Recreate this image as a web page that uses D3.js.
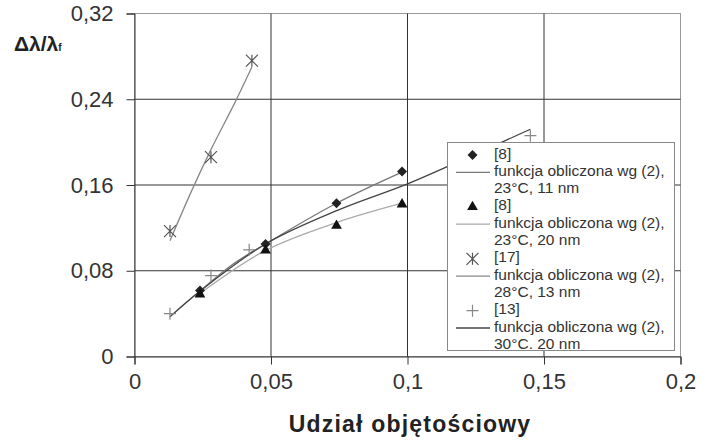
<!DOCTYPE html>
<html>
<head>
<meta charset="utf-8">
<script src="https://cdn.jsdelivr.net/npm/d3@7"></script>
<style>
  body { margin: 0; background: #fff; }
  svg { display: block; font-family: Arial, "Liberation Sans", sans-serif; }
  .tick text { fill: #333; font-size: 22px; }
  .legend text { fill: #333; font-size: 15.5px; }
</style>
</head>
<body>
<script>
const width = 716,
      height = 441;

// axes
const xTicks = [0, 0.05, 0.1, 0.15, 0.2];
const yTicks = [0, 0.08, 0.16, 0.24, 0.32];
const xTickLabels = ["0", "0,05", "0,1", "0,15", "0,2"];
const yTickLabels = ["0", "0,08", "0,16", "0,24", "0,32"];

// measured points
const ref8X = [0.024, 0.048, 0.074, 0.098];
const ref8aY = [0.0615, 0.105, 0.143, 0.1725];
const ref8bY = [0.058, 0.099, 0.122, 0.142];
const ref17X = [0.013, 0.028, 0.043];
const ref17Y = [0.117, 0.186, 0.276];
const ref13X = [0.013, 0.028, 0.042, 0.145];
const ref13Y = [0.040, 0.0755, 0.0995, 0.206];

// "funkcja obliczona wg (2)" curves
const fit11X = [0.024, 0.036, 0.048, 0.074, 0.098];
const fit11Y = [0.061, 0.086, 0.105, 0.143, 0.172];
const fit20X = [0.024, 0.048, 0.074, 0.098];
const fit20Y = [0.059, 0.099, 0.125, 0.143];
const fit28X = [0.013, 0.021, 0.028, 0.037, 0.043];
const fit28Y = [0.108, 0.155, 0.193, 0.238, 0.27];
const fit30X = [0.013, 0.024, 0.048, 0.075, 0.1, 0.125, 0.145];
const fit30Y = [0.037, 0.061, 0.105, 0.137, 0.161, 0.189, 0.212];

const legendLabels = [
    "[8]", "funkcja obliczona wg (2),", "23°C, 11 nm",
    "[8]", "funkcja obliczona wg (2),", "23°C, 20 nm",
    "[17]", "funkcja obliczona wg (2),", "28°C, 13 nm",
    "[13]", "funkcja obliczona wg (2),", "30°C. 20 nm"
];

const zip = (xs, ys) => xs.map((x, i) => ({x, y: ys[i]}));

const x = d3.scaleLinear().domain([0, 0.2]).range([134.5, 680.5]);
const y = d3.scaleLinear().domain([0, 0.32]).range([356.5, 13.5]);

const svg = d3.select("body").append("svg")
    .attr("width", width)
    .attr("height", height);

// plot frame (light top/right)
svg.append("rect")
    .attr("x", x(0)).attr("y", y(0.32))
    .attr("width", x(0.2) - x(0)).attr("height", y(0) - y(0.32))
    .attr("fill", "none").attr("stroke", "#999");

// grid
svg.append("g").selectAll("line")
    .data(xTicks.slice(1, -1))
    .enter().append("line")
    .attr("x1", d => x(d)).attr("x2", d => x(d))
    .attr("y1", y(0.32)).attr("y2", y(0))
    .attr("stroke", "#333");
svg.append("g").selectAll("line")
    .data(yTicks.slice(1, -1))
    .enter().append("line")
    .attr("x1", x(0)).attr("x2", x(0.2))
    .attr("y1", d => y(d)).attr("y2", d => y(d))
    .attr("stroke", "#333");

const xAxis = svg.append("g")
    .attr("transform", `translate(0,${y(0)})`)
    .call(d3.axisBottom(x).tickValues(xTicks).tickFormat((d, i) => xTickLabels[i])
        .tickSize(8).tickPadding(9));
const yAxis = svg.append("g")
    .attr("transform", `translate(${x(0)},0)`)
    .call(d3.axisLeft(y).tickValues(yTicks).tickFormat((d, i) => yTickLabels[i])
        .tickSize(8).tickPadding(13));
[xAxis, yAxis].forEach(a => {
    a.select(".domain").attr("stroke", "#333");
    a.selectAll(".tick line").attr("stroke", "#333");
    a.attr("font-size", null).attr("font-family", null);
});

// axis titles
const yTitle = svg.append("text")
    .attr("x", 14).attr("y", 51)
    .attr("font-weight", "bold").attr("font-size", 21).attr("fill", "#222")
    .text("Δλ/λ");
yTitle.append("tspan").attr("font-size", 10).text("f");

svg.append("text")
    .attr("x", 410).attr("y", 432)
    .attr("text-anchor", "middle")
    .attr("font-weight", "bold").attr("font-size", 23).attr("fill", "#222")
    .attr("letter-spacing", 1.2)
    .text("Udział objętościowy");

// fit curves
const line = d3.line().x(d => x(d.x)).y(d => y(d.y)).curve(d3.curveCatmullRom);
const fits = [
    {data: zip(fit11X, fit11Y), color: "#777"},
    {data: zip(fit20X, fit20Y), color: "#aaa"},
    {data: zip(fit28X, fit28Y), color: "#888"},
    {data: zip(fit30X, fit30Y), color: "#444"}
];
svg.append("g").selectAll("path")
    .data(fits)
    .enter().append("path")
    .attr("d", d => line(d.data))
    .attr("fill", "none")
    .attr("stroke", d => d.color)
    .attr("stroke-width", 1.3);

// markers
const diamondPath = "M0,-5L5,0L0,5L-5,0Z";
const asteriskPath = "M-6,-6L6,6M-6,6L6,-6M0,-6L0,6";
const plusPath = "M-6,0L6,0M0,-6L0,6";
const markerPath = type => {
    if (type === "diamond") return diamondPath;
    if (type === "triangle") return d3.symbol(d3.symbolTriangle, 50)();
    if (type === "asterisk") return asteriskPath;
    return plusPath;
};
const markerStyle = {
    diamond: {fill: "#222", stroke: "none"},
    triangle: {fill: "#111", stroke: "none"},
    asterisk: {fill: "none", stroke: "#555"},
    plus: {fill: "none", stroke: "#888"}
};
const series = [
    {type: "diamond", data: zip(ref8X, ref8aY)},
    {type: "triangle", data: zip(ref8X, ref8bY)},
    {type: "asterisk", data: zip(ref17X, ref17Y)},
    {type: "plus", data: zip(ref13X, ref13Y)}
];
series.forEach(s => {
    svg.append("g").selectAll("path")
        .data(s.data)
        .enter().append("path")
        .attr("transform", d => `translate(${x(d.x)},${y(d.y)})`)
        .attr("d", markerPath(s.type))
        .attr("fill", markerStyle[s.type].fill)
        .attr("stroke", markerStyle[s.type].stroke)
        .attr("stroke-width", 1.2);
});

// legend
const legend = svg.append("g").attr("class", "legend");
legend.append("rect")
    .attr("x", 447.5).attr("y", 142.5)
    .attr("width", 227).attr("height", 208)
    .attr("fill", "#fff").attr("stroke", "#888");

const rowH = 17.3;
legend.selectAll("text")
    .data(legendLabels)
    .enter().append("text")
    .attr("x", 494)
    .attr("y", (d, i) => 158.5 + i * rowH)
    .text(d => d);

series.forEach((s, i) => {
    const cy = 155 + i * 3 * rowH;
    legend.append("path")
        .attr("transform", `translate(472.5,${cy})`)
        .attr("d", markerPath(s.type))
        .attr("fill", markerStyle[s.type].fill)
        .attr("stroke", markerStyle[s.type].stroke)
        .attr("stroke-width", 1.2);
    legend.append("line")
        .attr("x1", 456).attr("x2", 490)
        .attr("y1", cy + rowH).attr("y2", cy + rowH)
        .attr("stroke", fits[i].color)
        .attr("stroke-width", 1.3);
});
</script>
</body>
</html>
